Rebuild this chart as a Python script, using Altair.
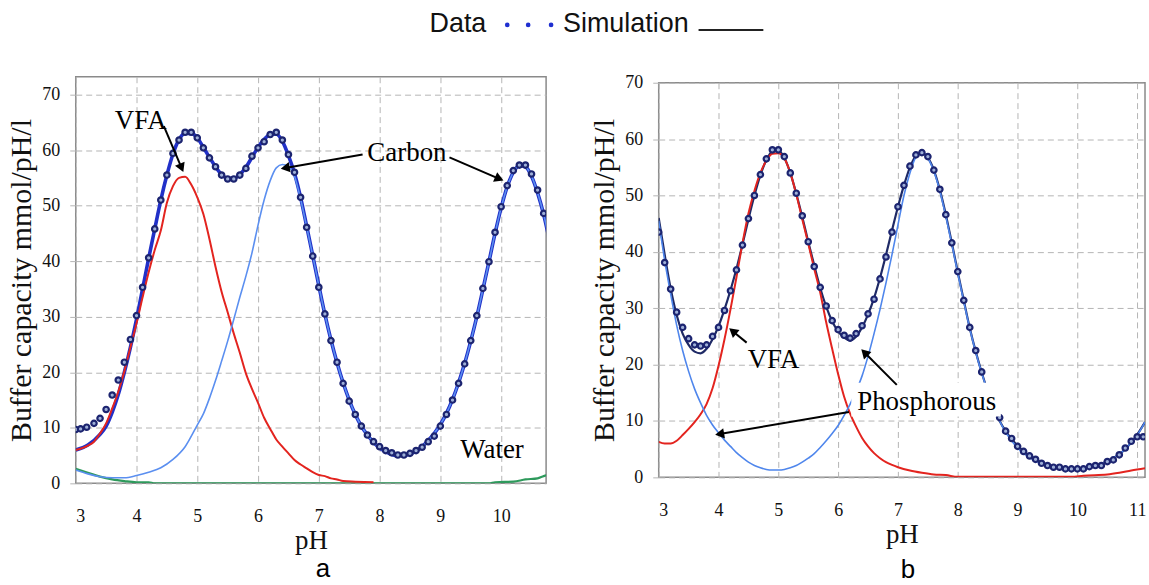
import math
import altair as alt
import pandas as pd

# ---------------- Panel a ----------------
A_DATA_PH = [3.0, 3.08, 3.18, 3.3, 3.4, 3.5, 3.6, 3.7, 3.8, 3.9,
             4.0, 4.1, 4.2, 4.3, 4.4, 4.5, 4.6, 4.7, 4.8, 4.9,
             5.0, 5.1, 5.2, 5.3, 5.4, 5.5, 5.6, 5.7, 5.8, 5.9,
             6.0, 6.1, 6.2, 6.3, 6.4, 6.5, 6.6, 6.7, 6.8, 6.9,
             7.0, 7.1, 7.2, 7.3, 7.4, 7.5, 7.6, 7.7, 7.8, 7.9,
             8.0, 8.1, 8.2, 8.3, 8.4, 8.5, 8.6, 8.7, 8.8, 8.9,
             9.0, 9.1, 9.2, 9.3, 9.4, 9.5, 9.6, 9.7, 9.8, 9.9,
             10.0, 10.1, 10.2, 10.3, 10.4, 10.5, 10.6, 10.7]
A_DATA_V = [9.7, 9.8, 10.1, 10.8, 11.7, 13.3, 15.9, 18.6, 21.8, 25.9,
            30.2, 35.3, 40.6, 45.8, 51.0, 55.5, 59.4, 61.8, 63.2, 63.2,
            62.2, 60.4, 58.6, 57.0, 55.5, 54.8, 54.8, 55.5, 56.7, 58.9,
            60.4, 61.5, 62.8, 63.2, 61.8, 59.2, 56.0, 51.5, 46.1, 40.9,
            35.3, 30.5, 25.7, 21.8, 18.0, 14.8, 12.4, 10.3, 8.7, 7.5,
            6.6, 5.9, 5.5, 5.1, 5.1, 5.4, 5.9, 6.5, 7.5, 8.5,
            10.3, 12.4, 15.0, 18.0, 21.5, 25.7, 30.2, 35.1, 39.9, 45.2,
            49.8, 53.6, 56.3, 57.3, 57.3, 55.7, 52.8, 48.6]

A_TOT_PH = [3.0, 3.2, 3.4, 3.5, 3.6, 3.7, 3.8, 3.9,
            4.0, 4.1, 4.2, 4.3, 4.4, 4.5, 4.6, 4.7, 4.8, 4.9,
            5.0, 5.1, 5.2, 5.3, 5.4, 5.5, 5.6, 5.7, 5.8, 5.9,
            6.0, 6.1, 6.2, 6.3, 6.4, 6.5, 6.6, 6.7, 6.8, 6.9,
            7.0, 7.1, 7.2, 7.3, 7.4, 7.5, 7.6, 7.7, 7.8, 7.9,
            8.0, 8.1, 8.2, 8.3, 8.4, 8.5, 8.6, 8.7, 8.8, 8.9,
            9.0, 9.1, 9.2, 9.3, 9.4, 9.5, 9.6, 9.7, 9.8, 9.9,
            10.0, 10.1, 10.2, 10.3, 10.4, 10.5, 10.6, 10.7, 10.8]
A_TOT_V = [6.0, 6.9, 8.8, 10.3, 12.8, 16.0, 20.0, 24.5,
           29.5, 35.0, 40.5, 45.8, 51.0, 55.5, 59.3, 61.9, 63.0, 63.0,
           62.2, 60.5, 58.7, 57.0, 55.6, 54.9, 54.9, 55.6, 56.9, 58.7,
           60.5, 61.9, 62.8, 62.9, 61.6, 59.0, 55.8, 51.5, 46.3, 41.0,
           35.6, 30.4, 25.8, 21.7, 18.1, 15.0, 12.4, 10.3, 8.7, 7.4,
           6.4, 5.7, 5.2, 5.0, 5.0, 5.3, 5.8, 6.6, 7.7, 9.0,
           10.6, 12.6, 15.1, 18.1, 21.6, 25.6, 30.0, 34.9, 39.9, 45.0,
           49.6, 53.4, 56.0, 57.2, 57.0, 55.3, 52.3, 48.4, 43.5]

A_CARB_PH = [3.0, 3.2, 3.4, 3.6, 3.8, 4.0, 4.2, 4.4, 4.6, 4.8,
             5.0, 5.1, 5.2, 5.3, 5.4, 5.5, 5.6, 5.7, 5.8, 5.9,
             6.0, 6.1, 6.2, 6.3, 6.4, 6.5, 6.6, 6.7, 6.8, 6.9,
             7.0, 7.1, 7.2, 7.3, 7.4, 7.5, 7.6, 7.7, 7.8, 7.9,
             8.0, 8.1, 8.2, 8.3, 8.4, 8.5, 8.6, 8.7, 8.8, 8.9,
             9.0, 9.1, 9.2, 9.3, 9.4, 9.5, 9.6, 9.7, 9.8, 9.9,
             10.0, 10.1, 10.2, 10.3, 10.4, 10.5, 10.6, 10.7, 10.8]
A_CARB_V = [2.4, 1.7, 1.2, 1.0, 1.0, 1.4, 2.0, 2.8, 4.3, 6.6,
            10.5, 12.5, 15.3, 18.5, 22.0, 25.6, 29.5, 33.5, 37.3, 41.5,
            46.5, 51.0, 54.5, 56.8, 57.4, 57.0, 55.3, 51.2, 46.2, 41.0,
            35.6, 30.4, 25.8, 21.7, 18.1, 15.0, 12.4, 10.3, 8.7, 7.4,
            6.4, 5.7, 5.2, 5.0, 5.0, 5.3, 5.8, 6.6, 7.7, 9.0,
            10.6, 12.6, 15.1, 18.1, 21.6, 25.6, 30.0, 34.9, 39.9, 45.0,
            49.6, 53.4, 56.0, 57.2, 57.0, 55.3, 52.3, 48.4, 43.5]

A_VFA_PH = [3.0, 3.2, 3.3, 3.4, 3.5, 3.6, 3.7, 3.8, 3.9,
            4.0, 4.1, 4.2, 4.3, 4.4, 4.5, 4.6, 4.7, 4.8, 4.9,
            5.0, 5.1, 5.2, 5.3, 5.4, 5.5, 5.6, 5.7, 5.8, 5.9,
            6.0, 6.1, 6.2, 6.3, 6.4, 6.5, 6.6, 6.7, 6.8, 6.9,
            7.0, 7.1, 7.2, 7.3, 7.4, 7.6, 7.9]
A_VFA_V = [6.0, 6.8, 7.5, 9.0, 10.8, 13.5, 16.5, 20.2, 24.5,
           28.8, 33.5, 38.0, 42.0, 45.5, 50.5, 53.5, 55.0, 55.2, 53.8,
           51.5, 48.5, 44.0, 39.0, 34.5, 30.8, 27.0, 23.5, 19.8, 17.0,
           14.5, 11.8, 9.8, 7.9, 6.6, 5.4, 4.2, 3.4, 2.7, 2.0,
           1.5, 1.3, 0.9, 0.7, 0.4, 0.3, 0.2]

A_WAT_PH = [3.0, 3.2, 3.4, 3.6, 3.8, 4.0, 4.2, 4.3, 9.8, 9.9, 10.2, 10.4, 10.6, 10.7, 10.8]
A_WAT_V = [2.6, 1.9, 1.2, 0.7, 0.4, 0.2, 0.2, 0.0, 0.0, 0.2, 0.3, 0.7, 0.9, 1.3, 1.6]

# ---------------- Panel b ----------------
B_DATA_PH = [3.0, 3.1, 3.2, 3.3, 3.4, 3.5, 3.6, 3.7, 3.8, 3.9,
             4.0, 4.1, 4.2, 4.3, 4.4, 4.5, 4.6, 4.7, 4.8, 4.9,
             5.0, 5.1, 5.2, 5.3, 5.4, 5.5, 5.6, 5.7, 5.8, 5.9,
             6.0, 6.1, 6.2, 6.3, 6.4, 6.5, 6.6, 6.7, 6.8, 6.9,
             7.0, 7.1, 7.2, 7.3, 7.4, 7.5, 7.6, 7.7, 7.8, 7.9,
             8.0, 8.1, 8.2, 8.3, 8.4,
             8.7, 8.8, 8.9,
             9.0, 9.1, 9.2, 9.3, 9.4, 9.5, 9.6, 9.7, 9.8, 9.9,
             10.0, 10.1, 10.2, 10.3, 10.4, 10.5, 10.6, 10.7, 10.8, 10.9,
             11.0, 11.1]
B_DATA_V = [43.5, 38.1, 33.4, 29.3, 26.6, 24.6, 23.5, 23.3, 23.5, 25.0,
            26.6, 29.6, 33.1, 36.8, 41.2, 45.9, 50.0, 53.7, 56.5, 58.1,
            58.1, 56.9, 54.0, 50.4, 46.4, 41.8, 37.4, 33.7, 30.4, 27.8,
            26.2, 25.2, 24.7, 25.5, 26.9, 29.0, 31.6, 35.2, 39.1, 43.5,
            48.0, 51.8, 55.2, 57.2, 57.6, 56.9, 54.5, 51.1, 46.6, 41.6,
            36.5, 31.4, 26.6, 22.5, 18.7,
            10.6, 8.2, 6.9,
            5.5, 4.6, 3.8, 3.2, 2.5, 2.1, 1.8, 1.8, 1.5, 1.5,
            1.5, 1.5, 1.9, 2.1, 2.1, 2.8, 3.1, 4.0, 5.2, 6.4,
            7.2, 7.2]

B_TOT_PH = [3.0, 3.1, 3.2, 3.3, 3.4, 3.5, 3.6, 3.7, 3.8, 3.9,
            4.0, 4.1, 4.2, 4.3, 4.4, 4.5, 4.6, 4.7, 4.8, 4.9,
            5.0, 5.1, 5.2, 5.3, 5.4, 5.5, 5.6, 5.7, 5.8, 5.9,
            6.0, 6.1, 6.2, 6.3, 6.4, 6.5, 6.6, 6.7, 6.8, 6.9,
            7.0, 7.1, 7.2, 7.3, 7.4, 7.5, 7.6, 7.7, 7.8, 7.9,
            8.0, 8.1, 8.2, 8.3, 8.4, 8.5, 8.6,
            8.7, 8.8, 8.9, 9.0, 9.2, 9.4, 9.6, 9.8, 10.0, 10.2,
            10.4, 10.6, 10.8, 11.0, 11.13]
B_TOT_V = [46.0, 39.5, 33.5, 28.8, 25.5, 23.5, 22.3, 22.0, 22.8, 24.5,
           26.8, 29.8, 33.2, 37.0, 41.3, 45.8, 50.0, 53.6, 56.3, 57.8,
           57.9, 56.7, 54.0, 50.3, 46.2, 41.8, 37.6, 33.6, 30.3, 27.7,
           25.9, 24.8, 24.3, 25.0, 26.6, 28.9, 31.8, 35.4, 39.5, 43.8,
           48.0, 51.8, 55.0, 57.0, 57.5, 56.7, 54.5, 51.0, 46.6, 41.6,
           36.4, 31.4, 26.5, 22.3, 18.6, 15.3, 12.5,
           10.0, 8.2, 6.8, 5.6, 3.8, 2.6, 1.9, 1.6, 1.5, 1.8,
           2.4, 3.4, 5.0, 7.6, 9.8]

B_PHOS_PH = [3.0, 3.1, 3.2, 3.3, 3.4, 3.5, 3.6, 3.7, 3.8, 3.9,
             4.0, 4.1, 4.2, 4.3, 4.4, 4.5, 4.6, 4.7, 4.8, 4.9,
             5.0, 5.1, 5.2, 5.3, 5.4, 5.5, 5.6, 5.7, 5.8, 5.9,
             6.0, 6.1, 6.2, 6.3, 6.4, 6.5, 6.6, 6.7, 6.8, 6.9,
             7.0, 7.1, 7.2, 7.3, 7.4, 7.5, 7.6, 7.7, 7.8, 7.9,
             8.0, 8.1, 8.2, 8.3, 8.4, 8.5, 8.6, 8.7, 8.8, 8.9,
             9.0, 9.2, 9.4, 9.6, 9.8, 10.0, 10.2, 10.4, 10.6, 10.8,
             10.9, 11.0, 11.13]
B_PHOS_V = [45.5, 38.5, 32.5, 27.0, 22.5, 18.8, 15.7, 13.2, 11.0, 9.3,
            7.9, 6.6, 5.5, 4.4, 3.5, 2.7, 2.1, 1.7, 1.4, 1.3,
            1.3, 1.4, 1.7, 2.1, 2.7, 3.4, 4.2, 5.3, 6.5, 7.8,
            9.2, 11.0, 13.0, 15.3, 18.0, 21.5, 25.5, 29.8, 34.5, 39.5,
            44.8, 50.0, 54.0, 56.8, 57.6, 56.6, 54.3, 50.8, 46.3, 41.4,
            36.2, 31.2, 26.4, 22.2, 18.5, 15.2, 12.4, 10.0, 8.0, 6.5,
            5.2, 3.5, 2.4, 1.7, 1.4, 1.4, 1.7, 2.4, 3.4, 5.0,
            6.2, 7.5, 9.8]

B_VFA_PH = [3.0, 3.1, 3.2, 3.3, 3.4, 3.5, 3.6, 3.7, 3.8, 3.9,
            4.0, 4.1, 4.2, 4.3, 4.4, 4.5, 4.6, 4.7, 4.8, 4.9,
            5.0, 5.1, 5.2, 5.3, 5.4, 5.5, 5.6, 5.7, 5.8, 5.9,
            6.0, 6.1, 6.2, 6.3, 6.4, 6.5, 6.6, 6.7, 6.8, 6.9,
            7.0, 7.2, 7.4, 7.6, 7.8, 8.0, 9.9, 10.1, 10.5, 10.7,
            10.9, 11.13]
B_VFA_V = [6.3, 6.0, 6.0, 6.5, 7.5, 8.6, 9.8, 11.2, 13.0, 15.8,
           19.8, 24.5, 29.8, 35.5, 41.5, 46.8, 50.8, 54.0, 56.2, 57.4,
           57.5, 56.6, 54.0, 50.2, 45.8, 41.5, 37.0, 32.8, 27.5, 22.8,
           18.3, 14.3, 11.3, 9.0, 7.0, 5.5, 4.3, 3.4, 2.7, 2.2,
           1.8, 1.2, 0.8, 0.5, 0.4, 0.1, 0.1, 0.3, 0.5, 0.8,
           1.2, 1.6]

X_TICKS_A = [3, 4, 5, 6, 7, 8, 9, 10]
X_TICKS_B = [3, 4, 5, 6, 7, 8, 9, 10, 11]
Y_TICKS = [0, 10, 20, 30, 40, 50, 60, 70]

# annotations: (text, pH, value)
A_TEXTS = [("VFA", 4.07, 65.2), ("Carbon", 8.45, 59.5), ("Water", 9.85, 6.0)]
A_ARROWS = [(4.45, 64.3, 4.78, 55.8), (7.72, 59.2, 6.35, 56.6), (9.15, 58.7, 10.06, 54.4)]
B_TEXTS = [("VFA", 4.92, 20.8), ("Phosphorous", 7.48, 13.4)]
B_ARROWS = [(4.47, 23.9, 4.16, 26.6), (6.98, 16.4, 6.37, 22.9), (6.18, 11.6, 3.92, 7.5)]
B_BOX = (6.22, 10.8, 8.72, 16.8)

SERIF = "Liberation Serif"
SANS = "Liberation Sans"

A_W, A_H, A_XMAX, A_YMAX = 472, 408, 10.74, 73.2
B_W, B_H, B_XMAX, B_YMAX = 488, 396, 11.13, 70.0


def make_panel(w, h, xmax, ymax, xticks, lines, dph, dv, texts, arrows, label, label_xy,
               box=None, legend=False):
    xs = alt.Scale(domain=[3, xmax], nice=False, zero=False)
    ys = alt.Scale(domain=[0, ymax], nice=False, zero=True)
    xax = alt.Axis(values=xticks, title="pH", grid=True, ticks=False, labelPadding=24,
                   titlePadding=2, domain=False,
                   labelFont=SERIF, labelFontSize=18, titleFont=SERIF, titleFontSize=27,
                   titleFontWeight="normal", labelColor="#111111", titleColor="#111111")
    yax = alt.Axis(values=Y_TICKS, title="Buffer capacity mmol/pH/l", grid=True, ticks=True,
                   tickSize=6, labelPadding=10, titlePadding=5, domain=False,
                   labelFont=SERIF, labelFontSize=18, titleFont=SERIF, titleFontSize=30,
                   titleFontWeight="normal", labelColor="#111111", titleColor="#111111")

    def X(f="pH"):
        return alt.X(f + ":Q", scale=xs, axis=xax)

    def Y(f="v"):
        return alt.Y(f + ":Q", scale=ys, axis=yax)

    layers = []
    for phs, vals, color, sw in lines:
        df = pd.DataFrame({"pH": phs, "v": vals})
        layers.append(alt.Chart(df).mark_line(color=color, strokeWidth=sw, clip=True,
                                              interpolate="monotone").encode(x=X(), y=Y()))
    ddf = pd.DataFrame({"pH": dph, "v": dv})
    layers.append(alt.Chart(ddf).mark_point(shape="circle", filled=True, fill="#9fb0d8",
                                            stroke="#1c2470", strokeWidth=2.2, size=30,
                                            opacity=1, clip=True).encode(x=X(), y=Y()))
    if box is not None:
        bdf = pd.DataFrame({"pH": [box[0]], "v": [box[1]], "pH2": [box[2]], "v2": [box[3]]})
        layers.append(alt.Chart(bdf).mark_rect(color="white").encode(
            x=X(), y=Y(), x2="pH2:Q", y2="v2:Q"))
    tdf = pd.DataFrame({"t": [t[0] for t in texts], "pH": [t[1] for t in texts],
                        "v": [t[2] for t in texts]})
    layers.append(alt.Chart(tdf).mark_text(font=SERIF, fontSize=27, color="black",
                                           align="center", baseline="middle").encode(
        x=X(), y=Y(), text="t:N"))
    # arrows
    sx = w / (xmax - 3)
    sy = h / ymax
    rows = []
    for x1, y1, x2, y2 in arrows:
        dx = (x2 - x1) * sx
        dy = -(y2 - y1) * sy
        ln = math.hypot(dx, dy)
        ux, uy = dx / ln, dy / ln
        back = 6.0
        hx = x2 - back * ux / sx
        hy = y2 + back * uy / sy
        ang = math.degrees(math.atan2(dx, -dy)) % 360
        rows.append({"pH": x1, "v": y1, "pH2": hx, "v2": hy, "hx": hx, "hy": hy, "ang": ang})
    adf = pd.DataFrame(rows)
    layers.append(alt.Chart(adf).mark_rule(color="black", strokeWidth=2).encode(
        x=X(), y=Y(), x2="pH2:Q", y2="v2:Q"))
    layers.append(alt.Chart(adf).mark_point(shape="triangle-up", filled=True, color="black",
                                            size=110, opacity=1).encode(
        x=X("hx"), y=Y("hy"), angle=alt.Angle("ang:Q", scale=None)))
    # panel letter
    ldf = pd.DataFrame({"t": [label]})
    layers.append(alt.Chart(ldf).mark_text(font=SANS, fontSize=26, color="black",
                                           align="center", baseline="alphabetic").encode(
        x=alt.value(label_xy[0]), y=alt.value(label_xy[1]), text="t:N"))
    if legend:
        leg = pd.DataFrame({"t": ["Data"]})
        layers.append(alt.Chart(leg).mark_text(font=SANS, fontSize=27, color="#111111",
                                               align="left", baseline="middle").encode(
            x=alt.value(355), y=alt.value(-53), text="t:N"))
        for dxp in [433, 454, 477]:
            layers.append(alt.Chart(leg).mark_circle(color="#1f2fd0", size=22, opacity=1).encode(
                x=alt.value(dxp), y=alt.value(-52)))
        leg2 = pd.DataFrame({"t": ["Simulation"]})
        layers.append(alt.Chart(leg2).mark_text(font=SANS, fontSize=27, color="#111111",
                                                align="left", baseline="middle").encode(
            x=alt.value(489), y=alt.value(-53), text="t:N"))
        layers.append(alt.Chart(leg2).mark_rule(color="#222222", strokeWidth=2).encode(
            x=alt.value(625), x2=alt.value(690), y=alt.value(-47)))
    return alt.layer(*layers).properties(width=w, height=h)


panel_a = make_panel(
    A_W, A_H, A_XMAX, A_YMAX, X_TICKS_A,
    [(A_WAT_PH, A_WAT_V, "#2e9a5c", 2.2),
     (A_TOT_PH, A_TOT_V, "#2130c8", 3.6),
     (A_VFA_PH, A_VFA_V, "#e3241f", 2.0),
     (A_CARB_PH, A_CARB_V, "#5b8ff0", 1.6)],
    A_DATA_PH, A_DATA_V, A_TEXTS, A_ARROWS, "a", (248, 502), legend=True)

panel_b = make_panel(
    B_W, B_H, B_XMAX, B_YMAX, X_TICKS_B,
    [(B_TOT_PH, B_TOT_V, "#1f2a66", 2.2),
     (B_VFA_PH, B_VFA_V, "#e3241f", 2.0),
     (B_PHOS_PH, B_PHOS_V, "#4f86ec", 1.6)],
    B_DATA_PH, B_DATA_V, B_TEXTS, B_ARROWS, "b", (250, 497), box=B_BOX)

chart = alt.hconcat(panel_a, panel_b, spacing=113, bounds="flush", center=True).properties(
    padding={"left": 6, "top": 8, "right": 2, "bottom": 0}
).configure_view(
    stroke="#8a8a8a", strokeWidth=1.5
).configure_axis(
    gridColor="#b5b5b5", gridDash=[6, 4], gridWidth=1, tickColor="#b5b5b5"
)

chart.save("out.html", embed_options={"renderer": "svg", "actions": False})
